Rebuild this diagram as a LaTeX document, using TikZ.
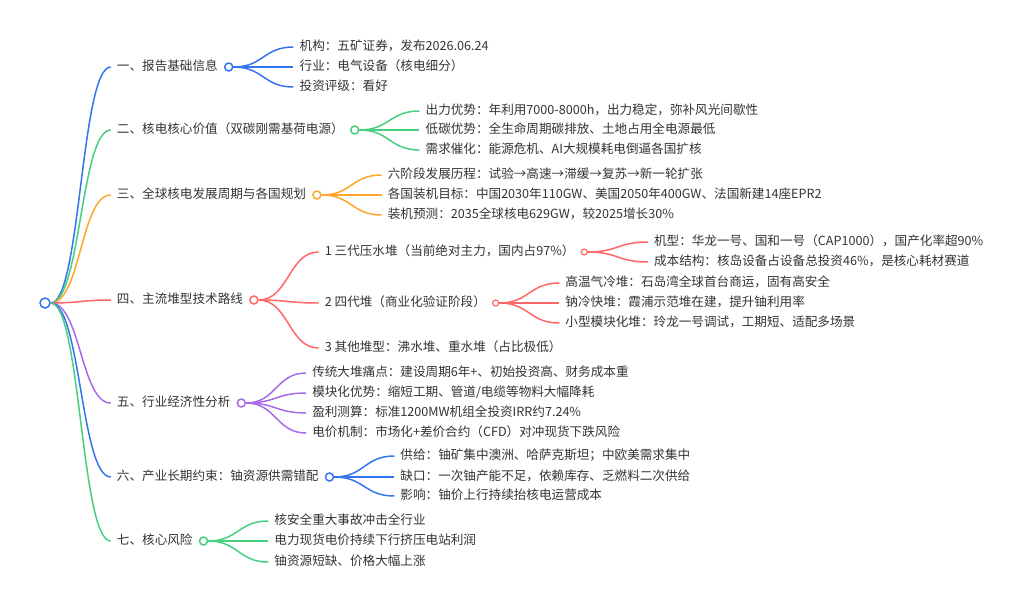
\documentclass[tikz,border=0pt]{standalone}
\usepackage{fontspec}
\setmainfont{Noto Sans CJK SC}
\usetikzlibrary{positioning}
\definecolor{mmblue}{HTML}{3574F0}
\definecolor{mmgreen}{HTML}{45D07F}
\definecolor{mmorange}{HTML}{FFA62B}
\definecolor{mmred}{HTML}{FF6666}
\definecolor{mmpurple}{HTML}{A66BE8}
\definecolor{txtgray}{HTML}{333333}

\begin{document}
\begin{tikzpicture}[
  x=1pt, y=-1pt,
  topic/.style={
    anchor=west, inner xsep=6pt, inner ysep=0pt,
    text height=10pt, text depth=2.6pt,
    font=\fontsize{12.6}{14}\selectfont, text=txtgray
  },
  hub/.style={
    circle, draw=#1, fill=white, line width=1.5pt,
    minimum size=8pt, inner sep=0pt
  },
  subhub/.style={
    circle, draw=#1, fill=white, line width=1.2pt,
    minimum size=6pt, inner sep=0pt
  },
  link/.style={draw=#1, line width=1.5pt},
]
  \useasboundingbox (0,0) rectangle (1024,607);

  % Root
  \node[hub=mmblue, minimum size=10pt] (root) at (45,303) {};

  % Main topics
  \node[topic, right=60pt of root, yshift=236pt] (t1) {一、报告基础信息};
  \node[topic, right=60pt of root, yshift=173pt] (t2) {二、核电核心价值（双碳刚需基荷电源）};
  \node[topic, right=60pt of root, yshift=108pt] (t3) {三、全球核电发展周期与各国规划};
  \node[topic, right=60pt of root, yshift=3pt] (t4) {四、主流堆型技术路线};
  \node[topic, right=60pt of root, yshift=-100pt] (t5) {五、行业经济性分析};
  \node[topic, right=60pt of root, yshift=-174pt] (t6) {六、产业长期约束：铀资源供需错配};
  \node[topic, right=60pt of root, yshift=-238pt] (t7) {七、核心风险};

  \node[hub=mmblue, right=0pt of t1] (c1) {};
  \node[hub=mmgreen, right=0pt of t2] (c2) {};
  \node[hub=mmorange, right=0pt of t3] (c3) {};
  \node[hub=mmred, right=0pt of t4] (c4) {};
  \node[hub=mmpurple, right=0pt of t5] (c5) {};
  \node[hub=mmblue, right=0pt of t6] (c6) {};
  \node[hub=mmgreen, right=0pt of t7] (c7) {};

  % Leaves
  \node[topic, right=60pt of c1, yshift=20pt] (a11) {机构：五矿证券，发布2026.06.24};
  \node[topic, right=60pt of c1] (a12) {行业：电气设备（核电细分）};
  \node[topic, right=60pt of c1, yshift=-20pt] (a13) {投资评级：看好};

  \node[topic, right=60pt of c2, yshift=19pt] (a21) {出力优势：年利用7000-8000h，出力稳定，弥补风光间歇性};
  \node[topic, right=60pt of c2] (a22) {低碳优势：全生命周期碳排放、土地占用全电源最低};
  \node[topic, right=60pt of c2, yshift=-20pt] (a23) {需求催化：能源危机、AI大规模耗电倒逼各国扩核};

  \node[topic, right=60pt of c3, yshift=20pt] (a31) {六阶段发展历程：试验→高速→滞缓→复苏→新一轮扩张};
  \node[topic, right=60pt of c3] (a32) {各国装机目标：中国2030年110GW、美国2050年400GW、法国新建14座EPR2};
  \node[topic, right=60pt of c3, yshift=-20pt] (a33) {装机预测：2035全球核电629GW，较2025增长30\%};

  \node[topic, right=60pt of c4, yshift=48pt] (b1) {1 三代压水堆（当前绝对主力，国内占97\%）};
  \node[topic, right=60pt of c4, yshift=-3pt] (b2) {2 四代堆（商业化验证阶段）};
  \node[topic, right=60pt of c4, yshift=-48pt] (b3) {3 其他堆型：沸水堆、重水堆（占比极低）};
  \node[subhub=mmred, right=0pt of b1] (s1) {};
  \node[subhub=mmred, right=0pt of b2] (s2) {};

  \node[topic, right=60pt of s1, yshift=10pt] (b11) {机型：华龙一号、国和一号（CAP1000），国产化率超90\%};
  \node[topic, right=60pt of s1, yshift=-10pt] (b12) {成本结构：核岛设备占设备总投资46\%，是核心耗材赛道};
  \node[topic, right=60pt of s2, yshift=20pt] (b21) {高温气冷堆：石岛湾全球首台商运，固有高安全};
  \node[topic, right=60pt of s2] (b22) {钠冷快堆：霞浦示范堆在建，提升铀利用率};
  \node[topic, right=60pt of s2, yshift=-20pt] (b23) {小型模块化堆：玲龙一号调试，工期短、适配多场景};

  \node[topic, right=60pt of c5, yshift=30pt] (a51) {传统大堆痛点：建设周期6年+、初始投资高、财务成本重};
  \node[topic, right=60pt of c5, yshift=10pt] (a52) {模块化优势：缩短工期、管道/电缆等物料大幅降耗};
  \node[topic, right=60pt of c5, yshift=-10pt] (a53) {盈利测算：标准1200MW机组全投资IRR约7.24\%};
  \node[topic, right=60pt of c5, yshift=-30pt] (a54) {电价机制：市场化+差价合约（CFD）对冲现货下跌风险};

  \node[topic, right=60pt of c6, yshift=21pt] (a61) {供给：铀矿集中澳洲、哈萨克斯坦；中欧美需求集中};
  \node[topic, right=60pt of c6] (a62) {缺口：一次铀产能不足，依赖库存、乏燃料二次供给};
  \node[topic, right=60pt of c6, yshift=-19pt] (a63) {影响：铀价上行持续抬核电运营成本};

  \node[topic, right=60pt of c7, yshift=20pt] (a71) {核安全重大事故冲击全行业};
  \node[topic, right=60pt of c7] (a72) {电力现货电价持续下行挤压电站利润};
  \node[topic, right=60pt of c7, yshift=-21pt] (a73) {铀资源短缺、价格大幅上涨};

  % Root links
  \draw[link=mmblue] (root.east) .. controls +(30,0) and +(-30,0) .. (t1.west);
  \draw[link=mmgreen] (root.east) .. controls +(30,0) and +(-30,0) .. (t2.west);
  \draw[link=mmorange] (root.east) .. controls +(30,0) and +(-30,0) .. (t3.west);
  \draw[link=mmred] (root.east) .. controls +(30,0) and +(-30,0) .. (t4.west);
  \draw[link=mmpurple] (root.east) .. controls +(30,0) and +(-30,0) .. (t5.west);
  \draw[link=mmblue] (root.east) .. controls +(30,0) and +(-30,0) .. (t6.west);
  \draw[link=mmgreen] (root.east) .. controls +(30,0) and +(-30,0) .. (t7.west);

  % Leaf links
  \foreach \leaf in {a11,a12,a13}
    \draw[link=mmblue] (c1.east) .. controls +(30,0) and +(-30,0) .. (\leaf.west);
  \foreach \leaf in {a21,a22,a23}
    \draw[link=mmgreen] (c2.east) .. controls +(30,0) and +(-30,0) .. (\leaf.west);
  \foreach \leaf in {a31,a32,a33}
    \draw[link=mmorange] (c3.east) .. controls +(30,0) and +(-30,0) .. (\leaf.west);
  \foreach \leaf in {b1,b2,b3}
    \draw[link=mmred] (c4.east) .. controls +(30,0) and +(-30,0) .. (\leaf.west);
  \foreach \leaf in {b11,b12}
    \draw[link=mmred] (s1.east) .. controls +(30,0) and +(-30,0) .. (\leaf.west);
  \foreach \leaf in {b21,b22,b23}
    \draw[link=mmred] (s2.east) .. controls +(30,0) and +(-30,0) .. (\leaf.west);
  \foreach \leaf in {a51,a52,a53,a54}
    \draw[link=mmpurple] (c5.east) .. controls +(30,0) and +(-30,0) .. (\leaf.west);
  \foreach \leaf in {a61,a62,a63}
    \draw[link=mmblue] (c6.east) .. controls +(30,0) and +(-30,0) .. (\leaf.west);
  \foreach \leaf in {a71,a72,a73}
    \draw[link=mmgreen] (c7.east) .. controls +(30,0) and +(-30,0) .. (\leaf.west);
\end{tikzpicture}
\end{document}
